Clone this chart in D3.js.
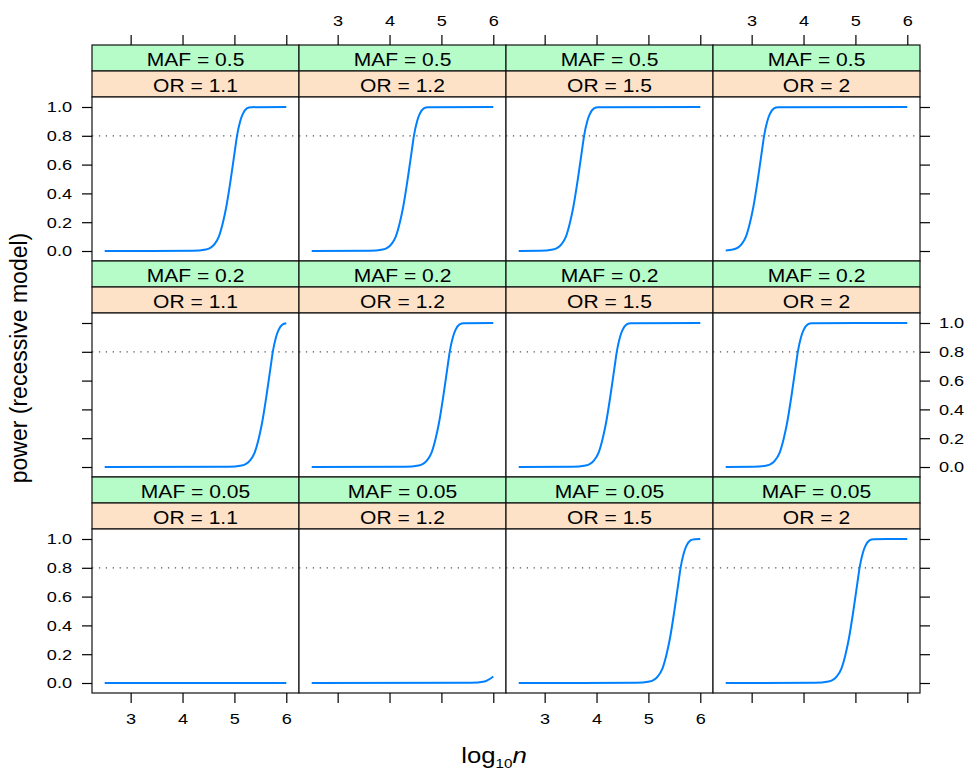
<!DOCTYPE html>
<html>
<head>
<meta charset="utf-8">
<script src="https://cdn.jsdelivr.net/npm/d3@7"></script>
<style>
body { margin: 0; background: #fff; }
text { font-family: "Liberation Sans", Arial, Helvetica, sans-serif; fill: #000; }
</style>
</head>
<body>
<div id="chart"></div>
<script>

// strip labels
var mafValues = ["0.5", "0.2", "0.05"];
var orValues = ["1.1", "1.2", "1.5", "2"];
var xTicks = [3, 4, 5, 6];
var yTicks = [0, 0.2, 0.4, 0.6, 0.8, 1.0];
var powerTarget = 0.8;

// power curves, [log10 n, power], one list per OR
var powerMaf05 = [
    [[2.5,0],[4.20,0.001],[4.45,0.01],[4.62,0.05],[4.70,0.1],[4.78,0.2],[4.84,0.3],[4.93,0.5],[5.01,0.7],[5.05,0.8],[5.11,0.9],[5.16,0.95],[5.24,0.99],[5.32,0.999],[6,1]],
    [[2.5,0],[3.62,0.001],[3.87,0.01],[4.04,0.05],[4.12,0.1],[4.20,0.2],[4.26,0.3],[4.35,0.5],[4.43,0.7],[4.47,0.8],[4.53,0.9],[4.58,0.95],[4.66,0.99],[4.74,0.999],[6,1]],
    [[2.5,0],[2.91,0.001],[3.16,0.01],[3.33,0.05],[3.41,0.1],[3.49,0.2],[3.55,0.3],[3.64,0.5],[3.72,0.7],[3.76,0.8],[3.82,0.9],[3.87,0.95],[3.95,0.99],[4.03,0.999],[6,1]],
    [[2.5,0.004],[2.64,0.01],[2.81,0.05],[2.89,0.1],[2.97,0.2],[3.03,0.3],[3.12,0.5],[3.20,0.7],[3.24,0.8],[3.30,0.9],[3.35,0.95],[3.43,0.99],[3.51,0.999],[6,1]]
];
var powerMaf02 = [
    [[2.5,0],[4.89,0.001],[5.14,0.01],[5.31,0.05],[5.39,0.1],[5.47,0.2],[5.53,0.3],[5.62,0.5],[5.70,0.7],[5.74,0.8],[5.80,0.9],[5.85,0.95],[5.93,0.99],[6,0.998]],
    [[2.5,0],[4.31,0.001],[4.56,0.01],[4.73,0.05],[4.81,0.1],[4.89,0.2],[4.95,0.3],[5.04,0.5],[5.12,0.7],[5.16,0.8],[5.22,0.9],[5.27,0.95],[5.35,0.99],[5.43,0.999],[6,1]],
    [[2.5,0],[3.54,0.001],[3.79,0.01],[3.96,0.05],[4.04,0.1],[4.12,0.2],[4.18,0.3],[4.27,0.5],[4.35,0.7],[4.39,0.8],[4.45,0.9],[4.50,0.95],[4.58,0.99],[4.66,0.999],[6,1]],
    [[2.5,0],[3.04,0.001],[3.29,0.01],[3.46,0.05],[3.54,0.1],[3.62,0.2],[3.68,0.3],[3.77,0.5],[3.85,0.7],[3.89,0.8],[3.95,0.9],[4.00,0.95],[4.08,0.99],[4.16,0.999],[6,1]]
];
var powerMaf005 = [
    [[2.5,0],[6,0]],
    [[2.5,0],[5.58,0.001],[5.83,0.01],[6,0.045]],
    [[2.5,0],[4.77,0.001],[5.02,0.01],[5.19,0.05],[5.27,0.1],[5.35,0.2],[5.41,0.3],[5.50,0.5],[5.58,0.7],[5.62,0.8],[5.68,0.9],[5.73,0.95],[5.81,0.99],[5.89,0.999],[6,1]],
    [[2.5,0],[4.23,0.001],[4.48,0.01],[4.65,0.05],[4.73,0.1],[4.81,0.2],[4.87,0.3],[4.96,0.5],[5.04,0.7],[5.08,0.8],[5.14,0.9],[5.19,0.95],[5.27,0.99],[5.35,0.999],[6,1]]
];
var powerRows = [powerMaf05, powerMaf02, powerMaf005];

var W = 965, H = 771;
var padLeft = 92, padTop = 45;
var panelW = 207, panelH = 164, stripH = 26;
var rowH = 2 * stripH + panelH;
var sx = 1.17;   // text in the figure is a bit wide

var svg = d3.select("#chart").append("svg")
    .attr("width", W)
    .attr("height", H);

var x = d3.scaleLinear().domain([2.255, 6.245]).range([0, panelW]);
var y = d3.scaleLinear().domain([-0.0694, 1.0694]).range([panelH, 0]);

var line = d3.line()
    .x(function(d) { return x(d[0]); })
    .y(function(d) { return y(d[1]); })
    .curve(d3.curveMonotoneX);

// make axis labels look like the figure
function styleAxis(g, labelled, size) {
    g.select(".domain").remove();
    g.attr("color", "#000").attr("font-size", null).attr("font-family", null);
    g.selectAll(".tick line").attr("stroke-width", 1.2);
    if (!labelled) {
        g.selectAll(".tick text").remove();
        return;
    }
    g.selectAll(".tick text")
        .style("font-size", size + "px")
        .attr("x", function() { return (+d3.select(this).attr("x") || 0) / sx; })
        .attr("transform", "scale(" + sx + ",1)");
}

var tickFont = 15.5;

for (var r = 0; r < 3; r++) {
    for (var c = 0; c < 4; c++) {
        var x0 = padLeft + c * panelW;
        var y0 = padTop + r * rowH;
        var g = svg.append("g").attr("transform", "translate(" + x0 + "," + y0 + ")");

        // strips
        var strips = [
            {txt: "MAF = " + mafValues[r], fill: "#b5fcc8"},
            {txt: "OR = " + orValues[c], fill: "#fde2c8"}
        ];
        strips.forEach(function(s, i) {
            g.append("rect")
                .attr("x", 0).attr("y", i * stripH)
                .attr("width", panelW).attr("height", stripH)
                .attr("fill", s.fill)
                .attr("stroke", "#111").attr("stroke-width", 1.2);
            g.append("text")
                .attr("transform", "translate(" + (panelW / 2) + "," + (i * stripH + 20.8) + ") scale(" + sx + ",1)")
                .attr("text-anchor", "middle")
                .style("font-size", "18px")
                .text(s.txt);
        });

        var p = g.append("g").attr("transform", "translate(0," + (2 * stripH) + ")");
        p.append("rect")
            .attr("width", panelW).attr("height", panelH)
            .attr("fill", "#fff");

        p.append("line")
            .attr("x1", 0).attr("x2", panelW)
            .attr("y1", y(powerTarget)).attr("y2", y(powerTarget))
            .attr("stroke", "#555")
            .attr("stroke-width", 1.3)
            .attr("stroke-dasharray", "1.3,5.6");

        p.append("path")
            .datum(powerRows[r][c])
            .attr("d", line)
            .attr("fill", "none")
            .attr("stroke", "#0080ff")
            .attr("stroke-width", 2);

        p.append("rect")
            .attr("width", panelW).attr("height", panelH)
            .attr("fill", "none")
            .attr("stroke", "#111").attr("stroke-width", 1.2);

        // axes, alternating as lattice does
        if (r === 0) {
            var ga = g.append("g").call(d3.axisTop(x).tickValues(xTicks).tickSize(10).tickPadding(9).tickFormat(d3.format("d")));
            styleAxis(ga, c % 2 === 1, tickFont);
        }
        if (r === 2) {
            var gb = p.append("g").attr("transform", "translate(0," + panelH + ")")
                .call(d3.axisBottom(x).tickValues(xTicks).tickSize(10).tickPadding(10).tickFormat(d3.format("d")));
            styleAxis(gb, c % 2 === 0, tickFont);
        }
        if (c === 0) {
            var gl = p.append("g")
                .call(d3.axisLeft(y).tickValues(yTicks).tickSize(10).tickPadding(10).tickFormat(d3.format(".1f")));
            styleAxis(gl, r !== 1, tickFont);
        }
        if (c === 3) {
            var gr = p.append("g").attr("transform", "translate(" + panelW + ",0)")
                .call(d3.axisRight(y).tickValues(yTicks).tickSize(10).tickPadding(9).tickFormat(d3.format(".1f")));
            styleAxis(gr, r === 1, tickFont);
        }
    }
}

// axis titles
var xt = svg.append("text")
    .attr("transform", "translate(494,763) scale(" + sx + ",1)")
    .attr("text-anchor", "middle")
    .style("font-size", "22px");
xt.append("tspan").text("log");
xt.append("tspan").attr("dy", 5).style("font-size", "13px").text("10");
xt.append("tspan").attr("dy", -5).style("font-style", "italic").text("n");

svg.append("text")
    .attr("transform", "translate(27,358) rotate(-90)")
    .attr("text-anchor", "middle")
    .style("font-size", "23px")
    .text("power (recessive model)");

</script>
</body>
</html>
